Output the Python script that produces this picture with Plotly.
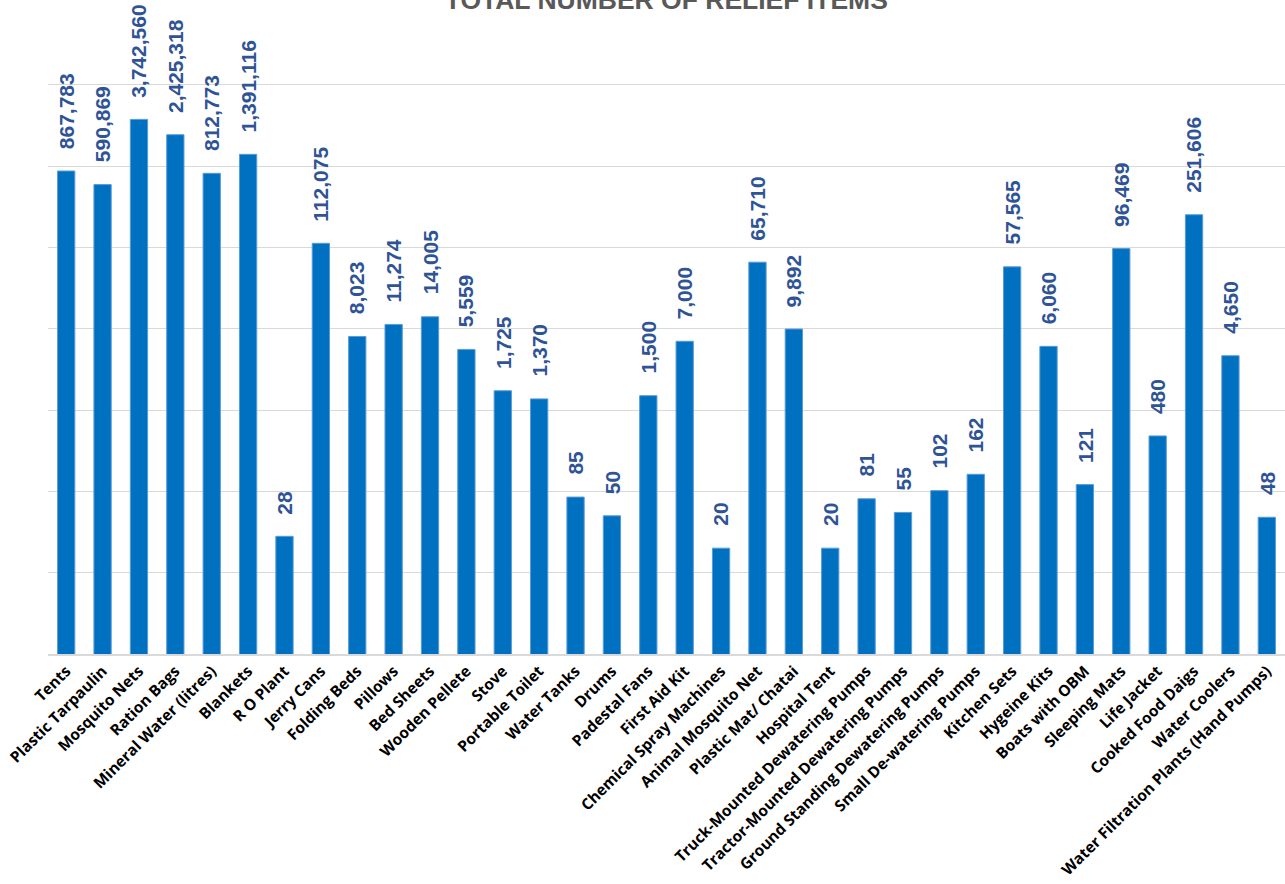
import numpy as np
import plotly.graph_objects as go

categories = ["Tents", "Plastic Tarpaulin", "Mosquito Nets", "Ration Bags", "Mineral Water (litres)",
              "Blankets", "R O Plant", "Jerry Cans", "Folding Beds", "Pillows", "Bed Sheets",
              "Wooden Pellete", "Stove", "Portable Toilet", "Water Tanks", "Drums", "Padestal Fans",
              "First Aid Kit", "Chemical Spray Machines", "Animal Mosquito Net", "Plastic Mat/ Chatai",
              "Hospital Tent", "Truck-Mounted Dewatering Pumps", "Tractor-Mounted Dewatering Pumps",
              "Ground Standing Dewatering Pumps", "Small De-watering Pumps", "Kitchen Sets",
              "Hygeine Kits", "Boats with OBM", "Sleeping Mats", "Life Jacket", "Cooked Food Daigs",
              "Water Coolers", "Water Filtration Plants (Hand Pumps)"]
values = [867783, 590869, 3742560, 2425318, 812773, 1391116, 28, 112075, 8023, 11274, 14005,
          5559, 1725, 1370, 85, 50, 1500, 7000, 20, 65710, 9892, 20, 81, 55, 102, 162, 57565,
          6060, 121, 96469, 480, 251606, 4650, 48]
title_text = "TOTAL NUMBER OF RELIEF ITEMS"

fig = go.Figure()
fig.add_trace(go.Bar(
    x=categories, y=values,
    marker=dict(color="#0070C0", line=dict(color="#5B9BD5", width=1)),
    hoverinfo="x+y",
))

for c, v in zip(categories, values):
    fig.add_annotation(
        x=c, y=np.log10(v), text=f"{v:,}", showarrow=False,
        textangle=-90, yanchor="bottom", xanchor="center", yshift=20,
        font=dict(family="Liberation Sans", size=21, color="#2F5496", weight="bold"),
    )

fig.update_layout(
    width=1285, height=884,
    margin=dict(l=48, r=0, t=44, b=230),
    paper_bgcolor="white", plot_bgcolor="white",
    bargap=0.525,
    showlegend=False,
    title=dict(text=title_text, x=0.5185, xanchor="center", y=1.0, yref="container", yanchor="middle",
               font=dict(family="Liberation Sans", size=26.5, color="#595959", weight="bold")),
)
fig.update_xaxes(
    tickangle=-45, showline=True, linecolor="#D9D9D9", linewidth=2, ticks="",
    tickfont=dict(family="Open Sans", size=15.5, color="black", weight="bold"),
)
fig.update_yaxes(
    type="log", range=[0, 7.5], dtick=1, showticklabels=False,
    showgrid=True, gridcolor="#D9D9D9", gridwidth=1.3, zeroline=False,
)

fig.write_html("out.html", config={"displayModeBar": False},
               post_script="document.body.style.margin='0';document.body.style.overflow='hidden';")
